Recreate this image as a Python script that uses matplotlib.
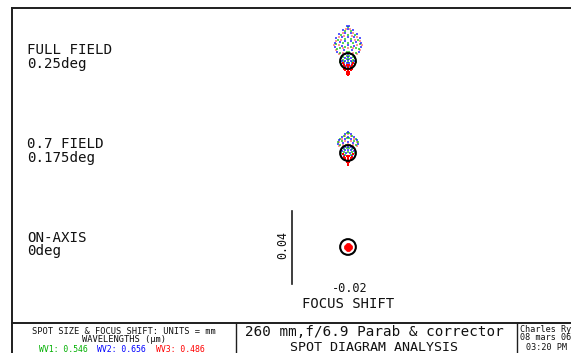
import numpy as np
import matplotlib
matplotlib.use("Agg")
import matplotlib.pyplot as plt
from matplotlib.patches import Circle

# ---------------- data (spot coordinates in micrometres, relative to chief ray) ----
full_blue = np.array([
    (-0.6, 19.3), (0.7, 19.3),
    (-2.6, 17.1), (0.0, 17.6), (2.6, 17.1),
    (-4.8, 14.6), (-1.6, 15.2), (1.6, 15.2), (4.8, 14.6),
    (-6.4, 12.4), (-3.2, 12.9), (0.0, 13.1), (3.2, 12.9), (6.4, 12.4),
    (-7.2, 10.0), (-4.3, 10.6), (-1.4, 10.9), (1.4, 10.9), (4.3, 10.6), (7.2, 10.0),
    (-7.0, 7.6), (-3.5, 8.4), (0.0, 8.7), (3.5, 8.4), (7.0, 7.6),
    (-5.8, 5.2), (-2.0, 6.0), (2.0, 6.0), (5.8, 5.2),
    (-3.4, 3.0), (-1.7, 3.6), (0.0, 3.8), (1.7, 3.6), (3.4, 3.0),
    (-3.6, 1.4), (-1.8, 1.8), (0.0, 2.0), (1.8, 1.8), (3.6, 1.4),
    (-3.2, -0.2), (-1.6, 0.2), (0.0, 0.3), (1.6, 0.2), (3.2, -0.2),
    (-2.4, -1.6), (-0.8, -1.3), (0.8, -1.3), (2.4, -1.6), (-1.2, -2.8), (1.2, -2.8)])
full_green = np.array([
    (0.0, 18.4),
    (-1.4, 16.4), (1.4, 16.4),
    (-3.6, 14.0), (0.0, 14.4), (3.6, 14.0),
    (-5.6, 11.6), (-1.8, 12.0), (1.8, 12.0), (5.6, 11.6),
    (-6.4, 9.2), (-2.8, 9.8), (0.0, 10.0), (2.8, 9.8), (6.4, 9.2),
    (-6.2, 6.8), (-4.6, 7.2), (-1.4, 7.6), (1.4, 7.6), (4.6, 7.2), (6.2, 6.8),
    (-4.4, 4.6), (-0.8, 5.2), (0.8, 5.2), (4.4, 4.6),
    (-2.6, 2.4), (-0.8, 2.8), (0.8, 2.8), (2.6, 2.4),
    (-2.8, 0.8), (-0.8, 1.0), (0.8, 1.0), (2.8, 0.8),
    (-2.0, -0.8), (0.0, -0.6), (2.0, -0.8), (-0.8, -2.0), (0.8, -2.0),
    (-3.8, -1.6), (3.8, -1.6), (-4.4, -0.5), (4.4, -0.5)])
full_red = np.array([
    (-1.0, 17.8), (1.0, 17.8),
    (-3.0, 15.6), (3.0, 15.6),
    (-5.2, 13.4), (-2.4, 13.8), (2.4, 13.8), (5.2, 13.4),
    (-6.8, 11.2), (-4.0, 11.4), (4.0, 11.4), (6.8, 11.2),
    (-7.4, 8.8), (-5.2, 9.0), (5.2, 9.0), (7.4, 8.8),
    (-6.6, 6.2), (-3.0, 7.0), (0.0, 7.2), (3.0, 7.0), (6.6, 6.2),
    (-5.0, 4.0), (-2.6, 4.6), (2.6, 4.6), (5.0, 4.0),
    (-3.0, -1.0), (3.0, -1.0), (-2.2, -2.4), (-0.6, -2.2), (0.6, -2.2), (2.2, -2.4),
    (-1.6, -3.4), (0.0, -3.2), (1.6, -3.4),
    (-2.0, -4.4), (-0.8, -4.2), (0.8, -4.2), (2.0, -4.4),
    (-1.4, -5.2), (0.0, -5.2), (1.4, -5.2),
    (-0.8, -6.0), (0.0, -6.2), (0.8, -6.0), (-0.4, -6.9), (0.4, -6.9), (0.0, -7.6)])

mid_blue = np.array([
    (0.0, 11.6),
    (-1.6, 10.2), (1.6, 10.2),
    (-3.4, 8.6), (0.0, 9.0), (3.4, 8.6),
    (-5.0, 7.0), (-1.8, 7.4), (1.8, 7.4), (5.0, 7.0),
    (-5.4, 5.2), (-2.6, 5.6), (0.0, 5.8), (2.6, 5.6), (5.4, 5.2),
    (-3.0, 2.8), (-1.5, 3.2), (0.0, 3.4), (1.5, 3.2), (3.0, 2.8),
    (-3.2, 1.2), (-1.6, 1.6), (0.0, 1.8), (1.6, 1.6), (3.2, 1.2),
    (-2.8, -0.4), (-1.2, 0.0), (1.2, 0.0), (2.8, -0.4),
    (-2.0, -1.8), (0.0, -1.4), (2.0, -1.8)])
mid_green = np.array([
    (-0.8, 10.8), (0.8, 10.8),
    (-2.4, 9.4), (2.4, 9.4),
    (-4.2, 7.8), (-0.8, 8.2), (0.8, 8.2), (4.2, 7.8),
    (-5.6, 6.2), (-3.4, 6.4), (3.4, 6.4), (5.6, 6.2),
    (-4.6, 4.2), (-1.2, 4.6), (1.2, 4.6), (4.6, 4.2),
    (-2.4, 2.2), (-0.6, 2.6), (0.6, 2.6), (2.4, 2.2),
    (-2.2, 0.6), (0.0, 0.8), (2.2, 0.6), (-1.4, -1.0), (1.4, -1.0),
    (-3.8, 0.0), (3.8, 0.0)])
mid_red = np.array([
    (0.0, 10.4),
    (-1.6, 9.2), (1.6, 9.2),
    (-3.4, 7.8), (3.4, 7.8),
    (-4.8, 6.0), (-1.8, 6.6), (1.8, 6.6), (4.8, 6.0),
    (-5.0, 4.0), (-3.0, 4.6), (0.0, 4.8), (3.0, 4.6), (5.0, 4.0),
    (-3.0, -0.8), (3.0, -0.8), (-2.4, -2.0), (-0.8, -1.8), (0.8, -1.8), (2.4, -2.0),
    (-1.8, -3.0), (0.0, -2.8), (1.8, -3.0), (-1.4, -4.0), (0.0, -3.8), (1.4, -4.0),
    (-0.8, -4.8), (0.8, -4.8), (0.0, -5.6), (0.0, -6.4)])

axis_blue = np.array([(0.0, 0.0), (0.5, 0.0), (-0.5, 0.0), (0.0, 0.5), (0.0, -0.5)])
axis_green = np.array([(0.0, 0.0), (0.4, 0.4), (-0.4, 0.4), (0.4, -0.4), (-0.4, -0.4)])
axis_red = np.array([
    (0, 0), (1, 0), (-1, 0), (0, 1), (0, -1),
    (0.7, 0.7), (-0.7, 0.7), (0.7, -0.7), (-0.7, -0.7),
    (1.8, 0), (-1.8, 0), (0, 1.8), (0, -1.8),
    (1.3, 1.3), (-1.3, 1.3), (1.3, -1.3), (-1.3, -1.3),
    (1.65, 0.7), (-1.65, 0.7), (1.65, -0.7), (-1.65, -0.7),
    (0.7, 1.65), (-0.7, 1.65), (0.7, -1.65), (-0.7, -1.65)])

field_labels = ["FULL FIELD", "0.7 FIELD", "ON-AXIS"]
field_angles = ["0.25deg", "0.175deg", "0deg"]
airy_radius_um = 4.3
scale_bar_um = 40.0
scale_label = "0.04"
focus_shift_label = "-0.02"
wavelengths = ["0.546", "0.656", "0.486"]
wave_colors = ["#00b000", "#0000ff", "#ff0000"]

# ---------------- figure ----------------
W, H = 571, 353
fig = plt.figure(figsize=(W / 100, H / 100), dpi=100)
bg = fig.add_axes([0, 0, 1, 1])
bg.set_xlim(0, W)
bg.set_ylim(H, 0)
bg.axis("off")

lc = "#1e1e1e"
lw = 1.4
bg.plot([12, W], [8, 8], color=lc, lw=lw)
bg.plot([12, 12], [8, H], color=lc, lw=lw)
bg.plot([12, W], [323, 323], color=lc, lw=lw)
bg.plot([236, 236], [323, H], color=lc, lw=1.0)
bg.plot([517, 517], [323, H], color=lc, lw=1.0)

font = "DejaVu Sans Mono"
tc = "#111111"
label_y = [(50.5, 64), (144.5, 158), (237.5, 251)]
for (y1, y2), lab, ang in zip(label_y, field_labels, field_angles):
    bg.text(27, y1, lab, fontsize=10.2, family=font, va="center", ha="left", color=tc)
    bg.text(27, y2, ang, fontsize=10.2, family=font, va="center", ha="left", color=tc)

bg.text(283, 245, scale_label, fontsize=8.4, family=font, rotation=90, va="center", ha="center", color=tc)
bg.text(349.5, 289, focus_shift_label, fontsize=8.6, family=font, va="center", ha="center", color=tc)
bg.text(348, 304, "FOCUS SHIFT", fontsize=10, family=font, va="center", ha="center", color=tc)

bg.text(124, 331, "SPOT SIZE & FOCUS SHIFT: UNITS = mm", fontsize=6.3, family=font, va="center", ha="center", color=tc)
bg.text(124, 340, "WAVELENGTHS (\u03bcm)", fontsize=6.3, family=font, va="center", ha="center", color=tc)
xs = [39, 97, 156]
for i, (x, wv, c) in enumerate(zip(xs, wavelengths, wave_colors)):
    bg.text(x, 349, f"WV{i+1}: {wv}", fontsize=5.9, family=font, color=c, va="center", ha="left")

bg.text(245, 332, "260 mm,f/6.9 Parab & corrector", fontsize=10.3, family=font, va="center", ha="left", color=tc)
bg.text(374, 347.5, "SPOT DIAGRAM ANALYSIS", fontsize=9.6, family=font, va="center", ha="center", color=tc)
bg.text(520, 329.5, "Charles Ry", fontsize=6.1, family=font, va="center", ha="left", color=tc)
bg.text(520, 338, "08 mars 06", fontsize=6.1, family=font, va="center", ha="left", color=tc)
bg.text(526, 347, "03:20 PM", fontsize=6.1, family=font, va="center", ha="left", color=tc)

# ---------------- spot diagrams ----------------
px_per_um = 73.0 / scale_bar_um
centers = [(348, 61), (348, 153), (348, 247)]
spots = [(full_green, full_blue, full_red),
         (mid_green, mid_blue, mid_red),
         (axis_green, axis_blue, axis_red)]
aw, ah = 140, 100
for k, ((cx, cy), (g, b, r)) in enumerate(zip(centers, spots)):
    ax = fig.add_axes([(cx - aw / 2) / W, (H - cy - ah / 2) / H, aw / W, ah / H])
    ax.set_xlim(-aw / 2 / px_per_um, aw / 2 / px_per_um)
    ax.set_ylim(-ah / 2 / px_per_um, ah / 2 / px_per_um)
    ax.axis("off")
    ax.patch.set_alpha(0)
    if k < 2:
        ax.scatter(r[:, 0], r[:, 1], s=2.0, marker="s", color="#ff3030", alpha=0.5, lw=0)
        ax.scatter(g[:, 0], g[:, 1], s=2.0, marker="s", color="#00c000", alpha=0.65, lw=0)
        ax.scatter(b[:, 0], b[:, 1], s=2.0, marker="s", color="#0000ff", alpha=0.65, lw=0)
        low = r[r[:, 1] < 0]
        ax.scatter(low[:, 0], low[:, 1], s=3.5, marker="s", color="#ff0000", lw=0)
    else:
        ax.scatter(g[:, 0], g[:, 1], s=2.2, marker="s", color="#00c000", lw=0)
        ax.scatter(b[:, 0], b[:, 1], s=2.2, marker="s", color="#0000ff", lw=0)
        ax.scatter(r[:, 0], r[:, 1], s=3.5, marker="o", color="#ff0000", lw=0)
        ax.plot([-56 / px_per_um] * 2, [-scale_bar_um / 2, scale_bar_um / 2],
                color=lc, lw=1.2, clip_on=False)
    ax.add_patch(Circle((0, 0), airy_radius_um, fill=False, ec="black", lw=1.5))

fig.savefig("out.png", dpi=100)
